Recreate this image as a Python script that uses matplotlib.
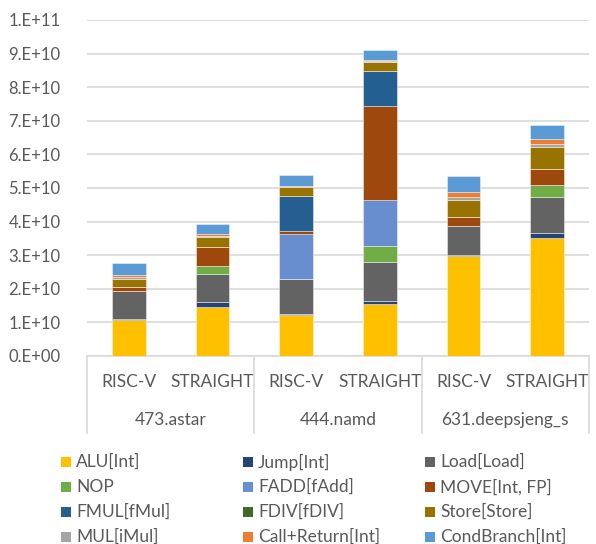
import matplotlib
matplotlib.use("Agg")
import matplotlib.pyplot as plt
from matplotlib.patches import Rectangle
from matplotlib.lines import Line2D
import numpy as np

plt.rcParams['font.family'] = ['Lato', 'DejaVu Sans']

bars = ["RISC-V", "STRAIGHT", "RISC-V", "STRAIGHT", "RISC-V", "STRAIGHT"]
groups = ["473.astar", "444.namd", "631.deepsjeng_s"]
yticks_labels = ["0.E+00", "1.E+10", "2.E+10", "3.E+10", "4.E+10", "5.E+10",
                 "6.E+10", "7.E+10", "8.E+10", "9.E+10", "1.E+11"]

series_names = ["ALU[Int]", "Jump[Int]", "Load[Load]", "NOP", "FADD[fAdd]",
                "MOVE[Int, FP]", "FMUL[fMul]", "FDIV[fDIV]", "Store[Store]",
                "MUL[iMul]", "Call+Return[Int]", "CondBranch[Int]"]
colors = ["#FFC000", "#264478", "#636363", "#70AD47", "#698ED0", "#9E480E",
          "#255E91", "#43682B", "#997300", "#A5A5A5", "#ED7D31", "#5B9BD5"]

ALU   = [1.07, 1.47, 1.22, 1.54, 2.97, 3.50]
Jump  = [0.03, 0.13, 0.02, 0.09, 0.05, 0.15]
Load  = [0.84, 0.83, 1.04, 1.16, 0.84, 1.09]
NOP   = [0.00, 0.26, 0.00, 0.49, 0.00, 0.34]
FADD  = [0.00, 0.00, 1.35, 1.35, 0.00, 0.00]
MOVE  = [0.10, 0.54, 0.10, 2.80, 0.27, 0.48]
FMUL  = [0.00, 0.00, 1.04, 1.05, 0.00, 0.00]
FDIV  = [0.00, 0.00, 0.00, 0.00, 0.00, 0.00]
Store = [0.26, 0.30, 0.25, 0.28, 0.51, 0.67]
MUL   = [0.06, 0.04, 0.02, 0.03, 0.08, 0.08]
Call  = [0.05, 0.05, 0.02, 0.02, 0.15, 0.15]
Cond  = [0.35, 0.31, 0.32, 0.31, 0.49, 0.42]
SCALE = 1e10

series = [ALU, Jump, Load, NOP, FADD, MOVE, FMUL, FDIV, Store, MUL, Call, Cond]

W, H = 596, 544
fig = plt.figure(figsize=(W / 100, H / 100), dpi=100)
L, R, T, B = 87, 589, 20, 356
ax = fig.add_axes([L / W, 1 - B / H, (R - L) / W, (B - T) / H])

x = np.arange(len(bars))
bottom = np.zeros(len(bars))
for vals, c in zip(series, colors):
    v = np.array(vals) * SCALE
    ax.bar(x, v, width=0.4, bottom=bottom, color=c, edgecolor=(1, 1, 1, 0.5),
           linewidth=0.6, zorder=3)
    bottom += v

ax.set_xlim(-0.5, len(bars) - 0.5)
ax.set_ylim(0, 1e11)
ax.set_yticks(np.arange(11) * 1e10)
ax.set_yticklabels(yticks_labels)
ax.yaxis.grid(True, color="#D9D9D9", linewidth=1.2, zorder=0)
ax.set_xticks([])
for s in ["top", "right", "left"]:
    ax.spines[s].set_visible(False)
ax.spines["bottom"].set_color("#D9D9D9")
ax.spines["bottom"].set_linewidth(1.2)
ax.tick_params(axis="y", length=0, pad=19, labelsize=12, labelcolor="#595959")

tr = ax.get_xaxis_transform()
for i, lab in enumerate(bars):
    ax.text(i, -0.077, lab, transform=tr, ha="center", va="center",
            fontsize=12.5, color="#595959")
for g, name in enumerate(groups):
    ax.text(2 * g + 0.5, -0.19, name, transform=tr, ha="center", va="center",
            fontsize=12.5, color="#595959")
for xe in [-0.5, 1.5, 3.5, 5.5]:
    ax.add_line(Line2D([xe, xe], [0, -0.228], transform=tr, color="#D9D9D9",
                       linewidth=1.2, clip_on=False))

# legend, row-wise order
col_x = [61, 243, 425]
row_y = [462, 487, 512, 537]
for k, (name, c) in enumerate(zip(series_names, colors)):
    r, cidx = divmod(k, 3)
    px, py = col_x[cidx], row_y[r]
    fig.add_artist(Rectangle((px / W, 1 - (py + 5) / H), 10 / W, 10 / H,
                             transform=fig.transFigure, facecolor=c,
                             edgecolor="none"))
    fig.text((px + 15) / W, 1 - py / H, name, ha="left", va="center",
             fontsize=12.5, color="#595959")

fig.savefig("out.png", dpi=100)
